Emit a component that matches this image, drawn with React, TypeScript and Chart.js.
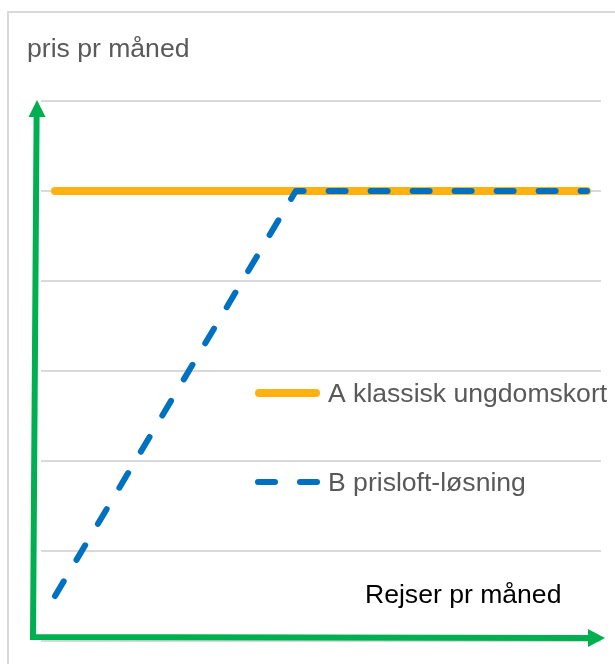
import React, { useEffect, useRef } from "react";
import { Chart, registerables } from "chart.js";

Chart.register(...registerables);

// ---- data ----
const seriesLabels = ["A klassisk ungdomskort", "B prisloft-løsning"];
const travelsA = [0.25, 9.75];
const priceA = [5, 5];
const travelsB = [0.25, 4.55, 9.75];
const priceB = [0.5, 5, 5];
const yTicks = [0, 1, 2, 3, 4, 5, 6];
const xRange = [0, 10];
const yAxisTitle = "pris pr måned";
const xAxisTitle = "Rejser pr måned";

const ORANGE = "#FFB20F";
const BLUE = "#0070C0";
const GREEN = "#00B050";
const GRAY_TEXT = "#595959";
const FONT = "26px 'Liberation Sans', Arial, sans-serif";
const STRETCH = 1.022;

function wideText(ctx: any, text: string, x: number, y: number) {
  ctx.save();
  ctx.translate(x, y);
  ctx.scale(STRETCH, 1);
  ctx.fillText(text, 0, 0);
  ctx.restore();
}

const decorPlugin = {
  id: "decor",
  afterDatasetsDraw(chart: any) {
    const { ctx, chartArea } = chart;
    const L = chartArea.left;
    const T = chartArea.top;
    ctx.save();
    // titles
    ctx.font = FONT;
    ctx.textBaseline = "alphabetic";
    ctx.textAlign = "left";
    ctx.fillStyle = GRAY_TEXT;
    wideText(ctx, yAxisTitle, L - 14, T - 44);
    ctx.fillStyle = "#000000";
    wideText(ctx, xAxisTitle, L + 324, T + 502);

    // legend
    const ds = chart.data.datasets;
    const items = [
      { d: ds.find((x: any) => x.label === seriesLabels[0]), y: T + 292 },
      { d: ds.find((x: any) => x.label === seriesLabels[1]), y: T + 381 },
    ];
    const sx = L + 214;
    items.forEach((it) => {
      if (!it.d) return;
      const w = it.d.borderWidth;
      ctx.beginPath();
      ctx.strokeStyle = it.d.borderColor;
      ctx.lineWidth = w;
      ctx.lineCap = "round";
      ctx.setLineDash(it.d.borderDash || []);
      ctx.moveTo(sx + w / 2, it.y);
      ctx.lineTo(sx + 65 - w / 2, it.y);
      ctx.stroke();
      ctx.setLineDash([]);
      ctx.fillStyle = GRAY_TEXT;
      ctx.font = FONT;
      wideText(ctx, it.d.label, sx + 73, it.y + 8.5);
    });
    ctx.restore();
  },
  afterDraw(chart: any) {
    const { ctx, chartArea } = chart;
    const L = chartArea.left;
    const B = chartArea.bottom;
    const T = chartArea.top;
    const R = chartArea.right;
    ctx.save();
    ctx.strokeStyle = GREEN;
    ctx.fillStyle = GREEN;
    ctx.lineWidth = 6;
    ctx.lineJoin = "miter";
    ctx.lineCap = "butt";
    ctx.beginPath();
    ctx.moveTo(L - 4.4, T + 16);
    ctx.lineTo(L - 8, B - 4);
    ctx.lineTo(R - 12, B - 3);
    ctx.stroke();
    // up arrow head
    ctx.beginPath();
    ctx.moveTo(L - 4, T - 1);
    ctx.lineTo(L - 12.5, T + 16);
    ctx.lineTo(L + 4.5, T + 16);
    ctx.closePath();
    ctx.fill();
    // right arrow head
    ctx.beginPath();
    ctx.moveTo(R + 4, B - 3);
    ctx.lineTo(R - 13, B - 12);
    ctx.lineTo(R - 13, B + 6);
    ctx.closePath();
    ctx.fill();
    ctx.restore();
  },
};

export default function App() {
  const ref = useRef<HTMLCanvasElement | null>(null);
  useEffect(() => {
    if (!ref.current) return;
    const chart = new Chart(ref.current, {
      type: "line",
      data: {
        datasets: [
          {
            label: seriesLabels[1],
            data: travelsB.map((x, i) => ({ x, y: priceB[i] })),
            borderColor: BLUE,
            borderWidth: 6,
            borderDash: [17, 25],
            borderCapStyle: "round",
            borderJoinStyle: "round",
            pointRadius: 0,
            tension: 0,
            fill: false,
            order: 0,
          },
          {
            label: seriesLabels[0],
            data: travelsA.map((x, i) => ({ x, y: priceA[i] })),
            borderColor: ORANGE,
            borderWidth: 8,
            borderCapStyle: "round",
            pointRadius: 0,
            tension: 0,
            fill: false,
            order: 1,
          },
        ] as any,
      },
      options: {
        animation: false,
        responsive: false,
        layout: { padding: { left: 41, top: 101, right: 14, bottom: 23 } },
        plugins: {
          legend: { display: false },
          title: { display: false },
          tooltip: { enabled: false },
        },
        scales: {
          x: {
            type: "linear",
            min: xRange[0],
            max: xRange[1],
            display: false,
          },
          y: {
            type: "linear",
            min: yTicks[0],
            max: yTicks[yTicks.length - 1],
            afterBuildTicks: (axis: any) => {
              axis.ticks = yTicks.map((v) => ({ value: v }));
            },
            ticks: { display: false },
            border: { display: false },
            grid: { color: "#d9d9d9", lineWidth: 2, drawTicks: false },
          },
        },
      } as any,
      plugins: [decorPlugin],
    });
    return () => chart.destroy();
  }, []);

  return (
    <div
      style={{
        position: "fixed",
        left: 0,
        top: 0,
        width: 615,
        height: 664,
        overflow: "hidden",
        background: "#ffffff",
      }}
    >
      <div
        style={{
          position: "absolute",
          left: 7,
          top: 11,
          width: 700,
          height: 700,
          borderLeft: "2px solid #d9d9d9",
          borderTop: "2px solid #d9d9d9",
        }}
      />
      <canvas
        ref={ref}
        width={615}
        height={664}
        style={{ position: "absolute", left: 0, top: 0, display: "block" }}
      />
    </div>
  );
}
